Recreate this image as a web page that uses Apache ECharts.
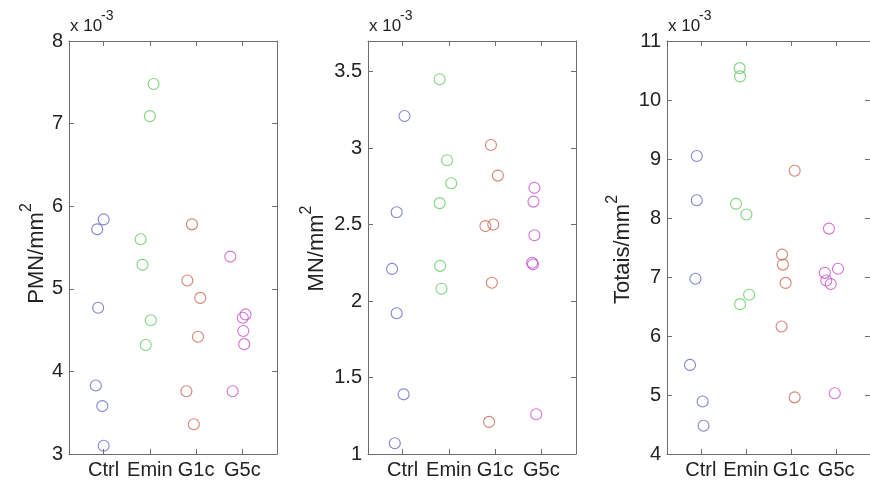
<!DOCTYPE html>
<html><head><meta charset="utf-8">
<script src="https://cdn.jsdelivr.net/npm/echarts@6/dist/echarts.min.js"></script>
<style>html,body{margin:0;padding:0;background:#fff}#c{width:870px;height:485px}</style>
</head><body><div id="c"></div>
<script>
// ---- data (values in units of 1e-3; x = category position + observed jitter) ----
const categories = ['Ctrl', 'Emin', 'G1c', 'G5c'];
const categoryPos = [1, 2, 3, 4];

// Panel 1: PMN/mm^2
const pmnCtrl = [[1.00, 5.84], [0.86, 5.72], [0.88, 4.77], [0.83, 3.83], [0.97, 3.58], [1.00, 3.10]];
const pmnEmin = [[2.08, 7.48], [2.00, 7.09], [1.80, 5.60], [1.84, 5.29], [2.02, 4.62], [1.91, 4.32]];
const pmnG1c  = [[2.91, 5.78], [2.81, 5.10], [3.09, 4.89], [3.04, 4.42], [2.79, 3.76], [2.95, 3.36]];
const pmnG5c  = [[3.74, 5.39], [4.07, 4.69], [4.01, 4.65], [4.02, 4.49], [4.04, 4.33], [3.79, 3.76]];
const pmnTicks = [3, 4, 5, 6, 7, 8];

// Panel 2: MN/mm^2
const mnCtrl = [[1.04, 3.21], [0.87, 2.58], [0.77, 2.21], [0.87, 1.92], [1.02, 1.39], [0.83, 1.07]];
const mnEmin = [[1.80, 3.45], [1.96, 2.92], [2.05, 2.77], [1.80, 2.64], [1.81, 2.23], [1.84, 2.08]];
const mnG1c  = [[2.91, 3.02], [3.06, 2.82], [2.79, 2.49], [2.96, 2.50], [2.93, 2.12], [2.87, 1.21]];
const mnG5c  = [[3.85, 2.74], [3.83, 2.65], [3.85, 2.43], [3.80, 2.25], [3.82, 2.24], [3.89, 1.26]];
const mnTicks = [1, 1.5, 2, 2.5, 3, 3.5];

// Panel 3: Totais/mm^2
const totCtrl = [[0.91, 9.05], [0.91, 8.30], [0.88, 6.97], [0.76, 5.51], [1.04, 4.89], [1.06, 4.48]];
const totEmin = [[1.86, 10.54], [1.87, 10.40], [1.78, 8.24], [2.01, 8.06], [2.07, 6.70], [1.87, 6.54]];
const totG1c  = [[3.08, 8.80], [2.80, 7.38], [2.82, 7.21], [2.88, 6.90], [2.79, 6.16], [3.08, 4.96]];
const totG5c  = [[3.84, 7.82], [4.04, 7.14], [3.75, 7.07], [3.78, 6.94], [3.88, 6.88], [3.97, 5.03]];
const totTicks = [4, 5, 6, 7, 8, 9, 10, 11];

// ---- styling ----
const colors = ['#6464c8', '#5ccc5c', '#cc6450', '#c850c8'];
const FONT = '"Liberation Sans", Arial, sans-serif';
const axisColor = '#6e6e6e';
const textColor = '#222';

const panels = [
  { left: 69,  min: 3, max: 8,   ticks: pmnTicks, main: 'PMN/mm', gap: 20, pad: [0, 12, 0, 0], data: [pmnCtrl, pmnEmin, pmnG1c, pmnG5c] },
  { left: 368, min: 1, max: 3.7, ticks: mnTicks,  main: 'MN/mm',  gap: 40, pad: [0, 2, 0, 0], data: [mnCtrl, mnEmin, mnG1c, mnG5c] },
  { left: 667, min: 4, max: 11,  ticks: totTicks, main: 'Totais/mm', gap: 33, pad: [0, 4, 0, 0], data: [totCtrl, totEmin, totG1c, totG5c] }
];

const grid = [], xAxis = [], yAxis = [], series = [], graphic = [];
const lineStyle = { color: axisColor, width: 1 };

panels.forEach((p, i) => {
  grid.push({ left: p.left, top: 41, width: 208, height: 413, containLabel: false });
  const xBase = {
    gridIndex: i, type: 'value', min: 0.25, max: 4.75,
    axisLine: { show: true, onZero: false, lineStyle },
    axisTick: { show: true, inside: true, length: 5, customValues: categoryPos, lineStyle },
    splitLine: { show: false }
  };
  xAxis.push(Object.assign({}, xBase, {
    position: 'bottom',
    axisLabel: {
      customValues: categoryPos, fontSize: 20, color: textColor, fontFamily: FONT, margin: 6,
      formatter: v => categories[categoryPos.indexOf(v)] || ''
    }
  }));
  xAxis.push(Object.assign({}, xBase, { position: 'top', axisLabel: { show: false } }));
  const yBase = {
    gridIndex: i, type: 'value', min: p.min, max: p.max,
    axisLine: { show: true, onZero: false, lineStyle },
    axisTick: { show: true, inside: true, length: 5, customValues: p.ticks, lineStyle },
    splitLine: { show: false }
  };
  yAxis.push(Object.assign({}, yBase, {
    position: 'left',
    axisLabel: { customValues: p.ticks, fontSize: 20, color: textColor, fontFamily: FONT, margin: 6 },
    name: '{m|' + p.main + '}{s|2}', nameLocation: 'middle', nameRotate: 90, nameGap: p.gap,
    nameTextStyle: {
      padding: p.pad,
      rich: {
        m: { fontSize: 22, lineHeight: 29, color: textColor, fontFamily: FONT, verticalAlign: 'bottom' },
        s: { fontSize: 16, lineHeight: 29, color: textColor, fontFamily: FONT, verticalAlign: 'top' }
      }
    }
  }));
  yAxis.push(Object.assign({}, yBase, { position: 'right', axisLabel: { show: false } }));

  p.data.forEach((d, k) => {
    series.push({
      type: 'scatter', xAxisIndex: i * 2, yAxisIndex: i * 2, data: d,
      symbol: 'circle', symbolSize: 11,
      itemStyle: { color: 'rgba(0,0,0,0)', borderColor: colors[k], borderWidth: 1.1 },
      emphasis: { disabled: true }, silent: true
    });
  });

  graphic.push({ type: 'text', x: p.left + 1, y: 18, style: { text: 'x 10', fontSize: 17, fontFamily: FONT, fill: textColor } });
  graphic.push({ type: 'text', x: p.left + 32, y: 9, style: { text: '-3', fontSize: 14, fontFamily: FONT, fill: textColor } });
});

const chart = echarts.init(document.getElementById('c'), null, { renderer: 'canvas' });
chart.setOption({ animation: false, backgroundColor: '#fff', grid, xAxis, yAxis, series, graphic });
</script>
</body></html>
